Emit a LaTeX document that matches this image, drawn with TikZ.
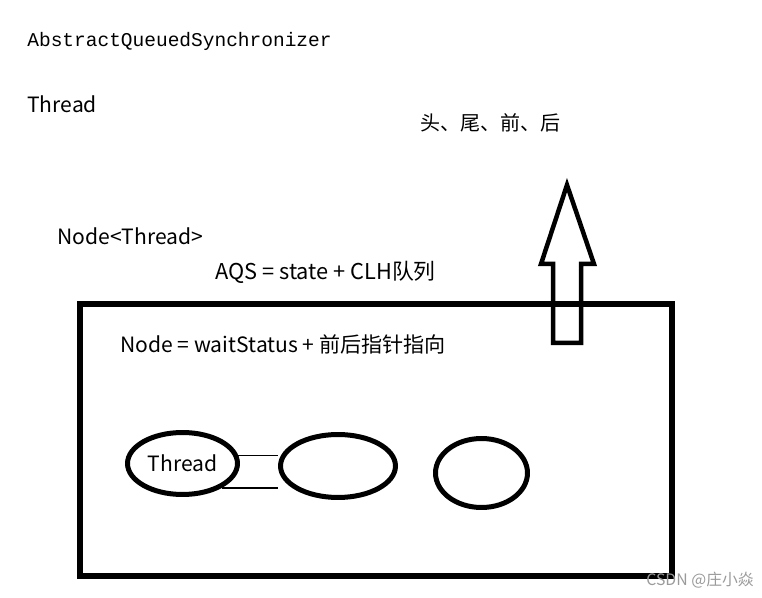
\documentclass[tikz,border=0pt]{standalone}
\usepackage{fontspec}
\setmainfont{Noto Sans CJK SC}
\setmonofont{Liberation Mono}
\usetikzlibrary{shapes.geometric}

\begin{document}
\begin{tikzpicture}[x=0.02cm, y=-0.02cm,
    nodeRing/.style={ellipse, draw=borderColour, line width=0.1cm, inner sep=0pt, font=\fontsize{12}{14}\selectfont},
    link/.style={draw=borderColour, line width=0.6pt},
    noteText/.style={anchor=west, inner sep=0pt, font=\fontsize{12}{14}\selectfont}]
    % Define colours
    \definecolor{borderColour}{HTML}{000000}
    \definecolor{markColour}{HTML}{9A9A9A}

    \useasboundingbox (0,0) rectangle (762,598);

    % Notes at the top
    \node[noteText, font=\ttfamily\fontsize{11.1}{13}\selectfont] (aqsName) at (27,41) {AbstractQueuedSynchronizer};
    \node[noteText] (threadName) at (27,104) {Thread};
    \node[noteText, font=\fontsize{11.4}{14}\selectfont] (pointers) at (420,123) {头、尾、前、后};
    \node[noteText] (nodeType) at (57,236) {Node<Thread>};
    \node[noteText, font=\fontsize{12.4}{14}\selectfont] (aqsFormula) at (215,272) {AQS = state + CLH队列};

    % Draw queue box
    \draw[draw=borderColour, line width=0.12cm] (80,304) rectangle (672,576);
    \node[noteText] (nodeFormula) at (120,344) {Node = waitStatus + 前后指针指向};

    % Draw queue nodes
    \node[nodeRing, minimum width=2.2cm, minimum height=1.24cm] (first) at (182.5,463.5) {Thread};
    \node[nodeRing, minimum width=2.3cm, minimum height=1.26cm] (second) at (338,466) {};
    \node[nodeRing, minimum width=1.84cm, minimum height=1.38cm] (third) at (481.5,473) {};

    % Links between first and second
    \draw[link] (first.8) -- (first.8 -| second.west);
    \draw[link] (first.-32) -- (first.-32 -| second.west);

    % Draw block arrow
    \draw[draw=borderColour, line width=0.09cm, line join=miter]
        (567,185) -- (594,264) -- (581,264) -- (581,343) -- (553,343) -- (553,264) -- (541,264) -- cycle;

    % Watermark
    \node[noteText, text=markColour, font=\fontsize{9}{10}\selectfont] (mark) at (646,580) {CSDN @庄小焱};
\end{tikzpicture}
\end{document}
